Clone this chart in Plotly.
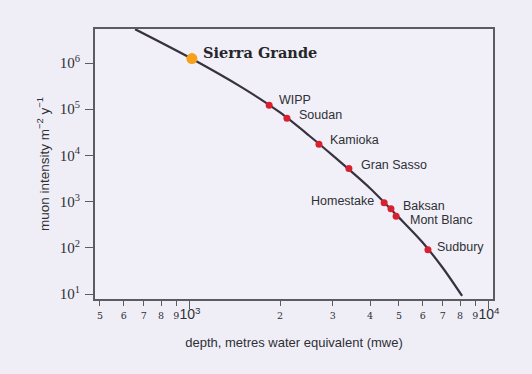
import math
import plotly.graph_objects as go

# Muon intensity versus depth curve (metres water equivalent)
curve_depth = [655, 1000, 1500, 2000, 2500, 3000, 4000, 5000, 6000, 7000, 8130]
curve_intensity = [5.4e6, 1.3e6, 2.9e5, 8.5e4, 2.7e4, 1.0e4, 1.95e3, 450, 130, 37, 9.1]

# Underground laboratories on the curve
site_names = ["WIPP", "Soudan", "Kamioka", "Gran Sasso", "Homestake",
              "Baksan", "Mont Blanc", "Sudbury"]
site_depth = [1840, 2110, 2700, 3400, 4460, 4700, 4890, 6250]
site_intensity = [1.22e5, 6.4e4, 1.75e4, 5.2e3, 950, 700, 480, 91]

# Highlighted site
highlight_name = "Sierra Grande"
highlight_depth = 1015
highlight_intensity = 1.25e6

# Axis ticks
y_tickvals = [1e1, 1e2, 1e3, 1e4, 1e5, 1e6]
y_ticktext = ["10<sup>1</sup>", "10<sup>2</sup>", "10<sup>3</sup>",
              "10<sup>4</sup>", "10<sup>5</sup>", "10<sup>6</sup>"]
x_tickvals = [500, 600, 700, 800, 900, 1000, 2000, 3000, 4000, 5000,
              6000, 7000, 8000, 9000, 10000]
x_ticktext = ["5", "6", "7", "8", "9", "10<sup>3</sup>", "2", "3", "4", "5",
              "6", "7", "8", "9", "10<sup>4</sup>"]

BIG = '<span style="font-family:Liberation Sans, Arial;font-size:14px">{}</span>'
x_ticktext_fmt = [BIG.format(t) if t.startswith("10") else t for t in x_ticktext]

INK = "#2f2f34"
AXIS = "#5c5c60"
BG = "#efeef7"

fig = go.Figure()

fig.add_trace(go.Scatter(
    x=curve_depth, y=curve_intensity, mode="lines",
    line=dict(color="#38313e", width=2.2, shape="spline", smoothing=0.8),
    hoverinfo="skip", showlegend=False,
))

fig.add_trace(go.Scatter(
    x=site_depth, y=site_intensity, mode="markers",
    marker=dict(color="#d8202e", size=7),
    showlegend=False,
))

fig.add_trace(go.Scatter(
    x=[highlight_depth], y=[highlight_intensity], mode="markers",
    marker=dict(color="#f7a01c", size=11),
    showlegend=False,
))

# label offsets in pixels: (horizontal gap, vertical lift)
label_shift = [(9, 5), (11, 3), (10, 4), (11, 4), (-9, 1.5), (11, 3), (13, -4), (8, 2.5)]

annotations = []
for name, xd, yi, (dx, dy) in zip(site_names, site_depth, site_intensity, label_shift):
    annotations.append(dict(
        x=math.log10(xd), y=math.log10(yi), xref="x", yref="y",
        text=name, showarrow=False,
        xanchor="left" if dx > 0 else "right", yanchor="middle",
        xshift=dx, yshift=dy, borderpad=0,
        font=dict(family="Liberation Sans, Arial", size=12.5, color=INK),
    ))

annotations.append(dict(
    x=math.log10(highlight_depth), y=math.log10(highlight_intensity),
    xref="x", yref="y",
    text="<b>" + highlight_name + "</b>", showarrow=False,
    xanchor="left", yanchor="middle", xshift=9, yshift=6,
    font=dict(family="DejaVu Serif", size=14.5, color="#26262a"),
))

fig.update_layout(
    width=532, height=374,
    margin=dict(l=95, r=39, t=29, b=75),
    paper_bgcolor=BG, plot_bgcolor="#f1f0f8",
    annotations=annotations,
    showlegend=False,
)

fig.update_xaxes(
    type="log", range=[2.6823, 4.0134],
    tickmode="array", tickvals=x_tickvals, ticktext=x_ticktext_fmt,
    tickangle=0, ticklabelstandoff=2,
    tickfont=dict(family="DejaVu Serif", size=9.5, color=INK),
    ticks="outside", ticklen=5, tickwidth=1.2, tickcolor=AXIS,
    minor=dict(tickmode="array", tickvals=[1000, 10000], ticks="outside",
               ticklen=8, tickwidth=1.2, tickcolor=AXIS),
    showgrid=False, zeroline=False,
    showline=True, linecolor=AXIS, linewidth=2, mirror=True,
    title=dict(text="depth, metres water equivalent (mwe)",
               font=dict(family="Liberation Sans, Arial", size=13, color=INK),
               standoff=16),
)

fig.update_yaxes(
    type="log", range=[0.892, 6.736],
    tickmode="array", tickvals=y_tickvals, ticktext=y_ticktext,
    tickfont=dict(family="Liberation Serif", size=15, color=INK),
    ticks="outside", ticklen=8, tickwidth=1.2, tickcolor=AXIS,
    ticklabelstandoff=2,
    showgrid=False, zeroline=False,
    showline=True, linecolor=AXIS, linewidth=2, mirror=True,
    title=dict(text="muon intensity m<sup>−2</sup> y<sup>−1</sup>",
               font=dict(family="Liberation Sans, Arial", size=13.5, color=INK),
               standoff=7),
)

fig.write_html("out.html")
